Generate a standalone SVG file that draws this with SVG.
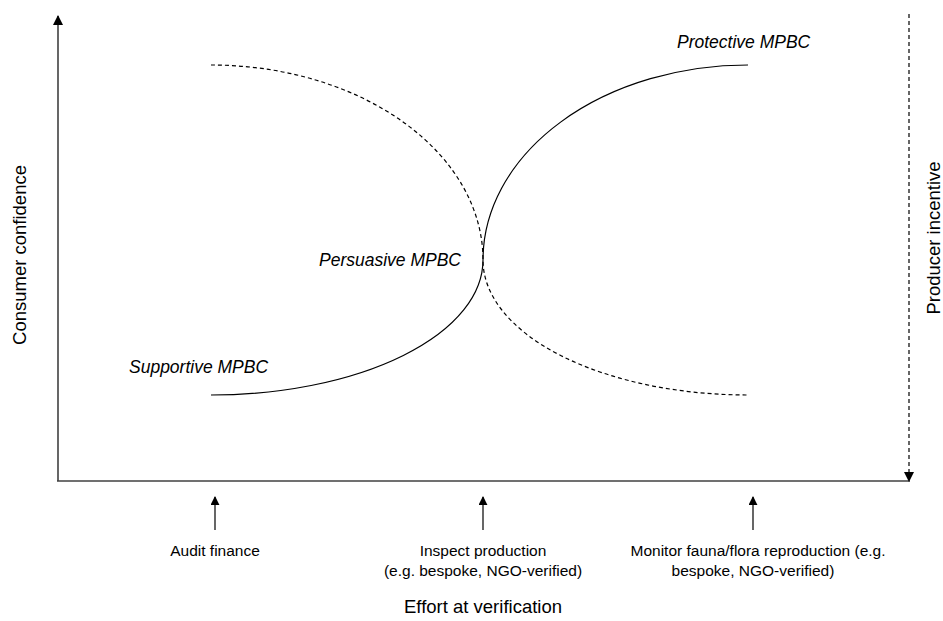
<svg xmlns="http://www.w3.org/2000/svg" width="943" height="621" viewBox="0 0 943 621">
<style>
.ax{fill:none;stroke:#404040;stroke-width:1.6}
.cv{fill:none;stroke:#000;stroke-width:1.2}
.dash{stroke-dasharray:4,3}
.lbl{font-family:"Liberation Sans",Arial,sans-serif;font-size:15.5px;fill:#000;text-anchor:middle}
.big{font-family:"Liberation Sans",Arial,sans-serif;font-size:18.5px;fill:#000;text-anchor:middle}
.it{font-family:"Liberation Sans",Arial,sans-serif;font-size:17.5px;font-style:italic;fill:#000}
</style>
<defs>
<marker id="ah" viewBox="0 0 10 10" refX="9" refY="5" markerWidth="9" markerHeight="9" markerUnits="userSpaceOnUse" orient="auto"><path d="M0,0 L10,5 L0,10 z" fill="#000"/></marker>
<marker id="ah2" viewBox="0 0 10 10" refX="9" refY="5" markerWidth="10" markerHeight="10" markerUnits="userSpaceOnUse" orient="auto"><path d="M0,0 L10,5 L0,10 z" fill="#000"/></marker>
</defs>
<g id="connectors">
<line class="ax" x1="58" y1="481" x2="58" y2="16" marker-end="url(#ah2)"/>
<line class="ax" x1="57" y1="481" x2="910" y2="481"/>
<line class="ax dash" x1="909" y1="14" x2="909" y2="481" marker-end="url(#ah2)"/>
<line class="cv" x1="215" y1="530" x2="215" y2="497" marker-end="url(#ah)"/>
<line class="cv" x1="483" y1="530" x2="483" y2="497" marker-end="url(#ah)"/>
<line class="cv" x1="753" y1="530" x2="753" y2="497" marker-end="url(#ah)"/>
</g>
<g id="solid-curve">
<path class="cv" d="M211,395 A272,135 0 0 0 483,260 A265,195 0 0 1 748,65"/>
</g>
<g id="dashed-curve">
<path class="cv dash" d="M211,65 A272,195 0 0 1 483,260 A265,135 0 0 0 748,395"/>
</g>
<g id="protective"><text class="it" x="677" y="48">Protective MPBC</text></g>
<g id="persuasive"><text class="it" x="319" y="266">Persuasive MPBC</text></g>
<g id="supportive"><text class="it" x="129" y="373">Supportive MPBC</text></g>
<g id="y-label"><text class="big" transform="translate(26,255) rotate(-90)">Consumer confidence</text></g>
<g id="y2-label"><text class="big" transform="translate(940,238) rotate(-90)">Producer incentive</text></g>
<g id="audit"><text class="lbl" x="215" y="556">Audit finance</text></g>
<g id="inspect"><text class="lbl" x="483" y="556">Inspect production</text><text class="lbl" x="483" y="576">(e.g. bespoke, NGO-verified)</text></g>
<g id="monitor"><text class="lbl" x="758" y="556">Monitor fauna/flora reproduction (e.g.</text><text class="lbl" x="753" y="576">bespoke, NGO-verified)</text></g>
<g id="x-label"><text class="big" x="483" y="613">Effort at verification</text></g>
</svg>
